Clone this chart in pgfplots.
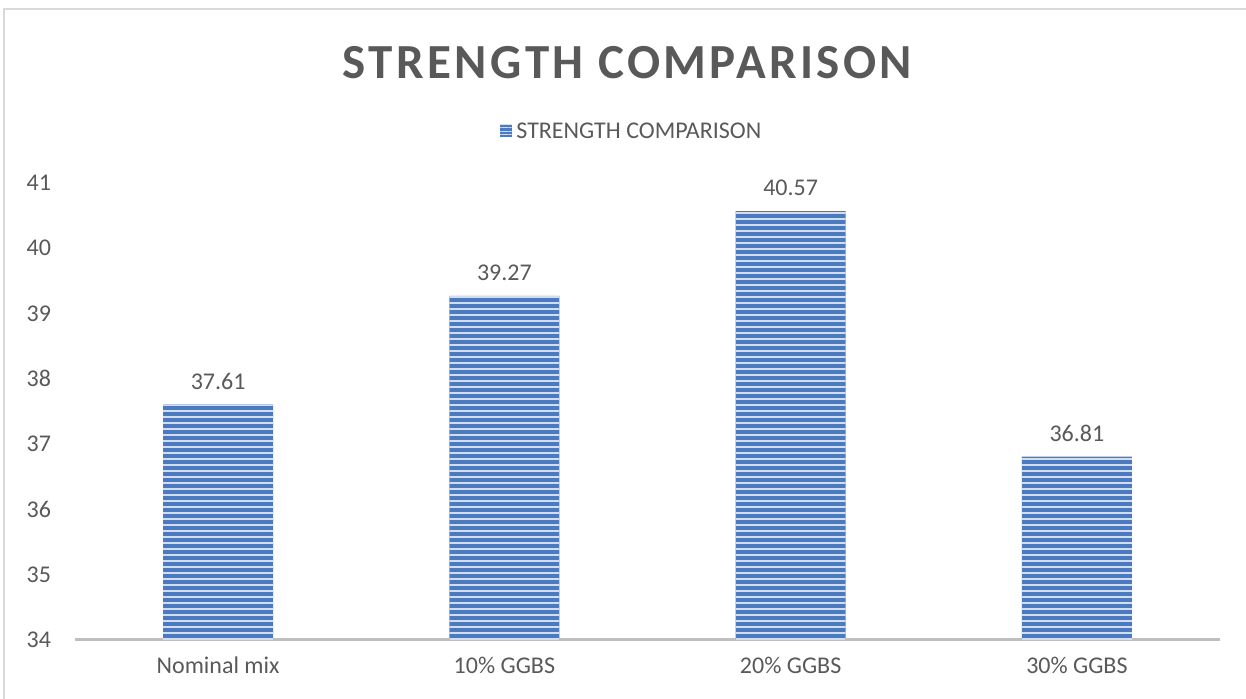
\documentclass[border=0pt]{standalone}
\usepackage{pgfplots}
\pgfplotsset{compat=1.18}
\usepackage{fontspec}
\setmainfont{Carlito}
\usetikzlibrary{patterns.meta}
\definecolor{txt}{HTML}{595959}
\definecolor{barblue}{HTML}{4A7BC1}
\definecolor{stripe}{HTML}{D2DEF0}
\definecolor{axisgray}{HTML}{BFBFBF}
\definecolor{bordergray}{HTML}{D9D9D9}
\begin{document}
\begin{tikzpicture}
\useasboundingbox (-37.5pt,-29.5pt) rectangle (585.5pt,320pt);
\draw[bordergray, line width=1pt] (-35.5pt,-40pt) -- (-35.5pt,315.5pt) -- (600pt,315.5pt);
\begin{axis}[
  at={(0pt,0pt)}, anchor=south west,
  scale only axis,
  width=572.5pt, height=228.5pt,
  xmin=-0.5, xmax=3.5,
  ymin=34, ymax=41,
  ytick={34,35,...,41},
  xtick={0,1,2,3},
  xticklabels={Nominal mix,10\% GGBS,20\% GGBS,30\% GGBS},
  axis y line*=left,
  axis x line*=bottom,
  y axis line style={draw=none},
  x axis line style={axisgray, line width=1.5pt},
  major tick length=0pt,
  tick style={draw=none},
  ticklabel style={font=\fontsize{12}{14}\selectfont, text=txt},
  yticklabel style={xshift=-8.5pt},
  xticklabel style={yshift=-5pt},
  /pgf/number format/assume math mode=true,
  ybar, bar width=55pt,
  nodes near coords,
  nodes near coords style={font=\fontsize{12}{14}\selectfont, text=txt, yshift=4pt,
    /pgf/number format/fixed, /pgf/number format/fixed zerofill, /pgf/number format/precision=2},
  clip=false,
]
\addplot[draw=none, fill=barblue,
  postaction={pattern={Lines[angle=0,distance=3pt,line width=0.9pt]}, pattern color=stripe}]
  coordinates {(0,37.61) (1,39.27) (2,40.57) (3,36.81)};
\node[font=\bfseries\fontsize{24.5}{30}\selectfont\addfontfeature{LetterSpace=7}, text=txt] at (axis cs:1.5,41) [xshift=-10pt, yshift=60pt] {STRENGTH COMPARISON};
\end{axis}
\fill[barblue, postaction={pattern={Lines[angle=0,distance=1.7pt,line width=0.5pt]}, pattern color=stripe}] (212.5pt,251.5pt) rectangle (218.5pt,257.5pt);
\node[anchor=west, font=\fontsize{12}{14}\selectfont, text=txt, inner sep=0pt] at (220.5pt,254.5pt) {STRENGTH COMPARISON};
\end{tikzpicture}
\end{document}
